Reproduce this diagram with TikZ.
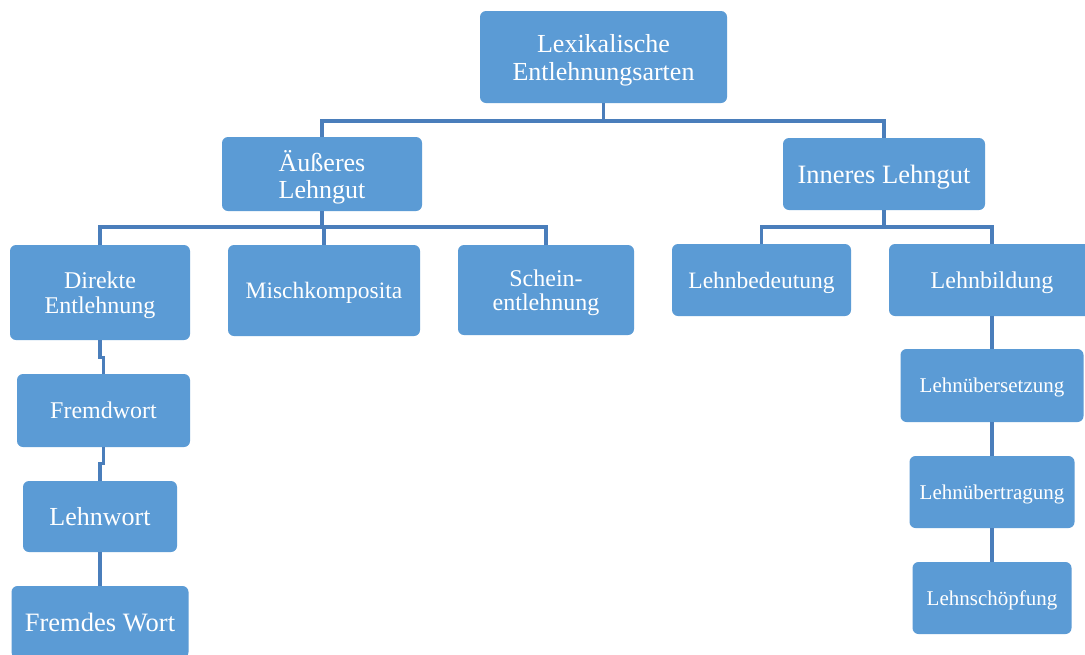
\documentclass[tikz,border=0pt]{standalone}
\usepackage{fontspec}
\setmainfont{Liberation Serif}
\definecolor{boxblue}{HTML}{5B9BD5}
\definecolor{lineblue}{HTML}{4A7EBB}
\begin{document}
\begin{tikzpicture}[x=1pt,y=-1pt,
  box/.style={rounded corners=6pt, fill=boxblue, text=white, align=center, inner sep=0pt, text depth=0pt},
  conn/.style={draw=lineblue, line width=3.2pt}]
\clip (0,0) rectangle (1085,654);
\fill[white] (0,0) rectangle (1085,654);
% bus levels
\coordinate (b1) at (0,121);
\coordinate (b2) at (0,227);
% nodes
\node[box, minimum width=247pt, minimum height=92pt, font=\fontsize{26}{28}\selectfont] (root) at (603.5,57) {Lexikalische\\Entlehnungsarten};
\node[box, minimum width=200pt, minimum height=74pt, font=\fontsize{26}{27}\selectfont] (aus) at (322,174) {Äußeres\\Lehngut};
\node[box, minimum width=202pt, minimum height=72pt, font=\fontsize{26.5}{28}\selectfont] (inn) at (884,174) {Inneres Lehngut};
\node[box, minimum width=180pt, minimum height=95pt, font=\fontsize{24}{25}\selectfont] (dir) at (100,292.5) {Direkte\\Entlehnung};
\node[box, minimum width=192pt, minimum height=91pt, font=\fontsize{23.5}{25}\selectfont] (mis) at (324,290.5) {Mischkomposita};
\node[box, minimum width=176pt, minimum height=90pt, font=\fontsize{24}{24}\selectfont] (sch) at (546,290) {Schein-\\entlehnung};
\node[box, minimum width=179pt, minimum height=72pt, font=\fontsize{23.5}{25}\selectfont] (lbd) at (761.5,280) {Lehnbedeutung};
\node[box, minimum width=206pt, minimum height=72pt, font=\fontsize{24}{25}\selectfont] (lbi) at (992,280) {Lehnbildung};
\node[box, minimum width=183pt, minimum height=73pt, font=\fontsize{21}{22}\selectfont] (lus) at (992,385.5) {Lehnübersetzung};
\node[box, minimum width=165pt, minimum height=72pt, font=\fontsize{21}{22}\selectfont] (lut) at (992,492) {Lehnübertragung};
\node[box, minimum width=159pt, minimum height=72pt, font=\fontsize{21}{22}\selectfont] (lsc) at (992,598) {Lehnschöpfung};
\node[box, minimum width=173pt, minimum height=73pt, font=\fontsize{24}{25}\selectfont] (frw) at (103.5,410.5) {Fremdwort};
\node[box, minimum width=154pt, minimum height=71pt, font=\fontsize{26}{27}\selectfont] (lw) at (100,516.5) {Lehnwort};
\node[box, minimum width=177pt, minimum height=72pt, font=\fontsize{26.5}{28}\selectfont] (fw) at (100,622) {Fremdes Wort};
% connectors
\draw[conn] (root.south) -- (root.south |- b1);
\draw[conn] (aus.north) |- (b1 -| inn.north) -- (inn.north);
\draw[conn] (aus.south) -- (aus.south |- b2);
\draw[conn] (dir.north) |- (b2 -| sch.north) -- (sch.north);
\draw[conn] (mis.north) -- (mis.north |- b2);
\draw[conn] (inn.south) -- (inn.south |- b2);
\draw[conn] (lbd.north) |- (b2 -| lbi.north) -- (lbi.north);
\draw[conn] (dir.south) -- ++(0,17) -| (frw.north);
\draw[conn] (frw.south) -- ++(0,16) -| (lw.north);
\draw[conn] (lw.south) -- (fw.north);
\draw[conn] (lbi.south) -- (lus.north);
\draw[conn] (lus.south) -- (lut.north);
\draw[conn] (lut.south) -- (lsc.north);
\end{tikzpicture}
\end{document}
